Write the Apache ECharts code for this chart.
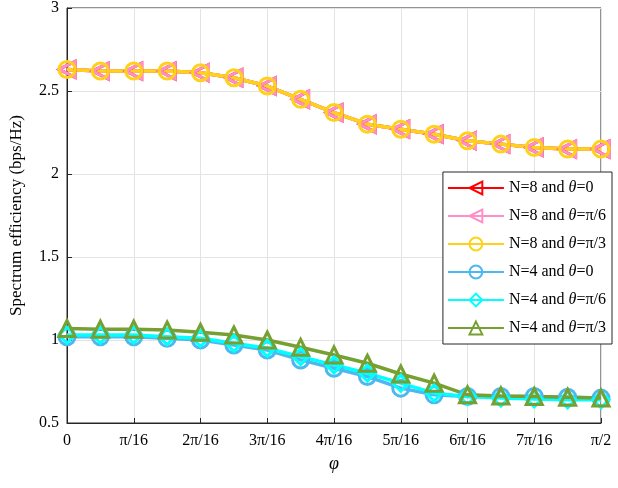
<!DOCTYPE html><html><head><meta charset="utf-8"><script src="https://cdn.jsdelivr.net/npm/echarts@6/dist/echarts.min.js"></script></head><body style="margin:0"><div id="c" style="width:618px;height:488px"></div><script>
const xs=[0,0.5,1,1.5,2,2.5,3,3.5,4,4.5,5,5.5,6,6.5,7,7.5,8];
const xTickLabels=['0','π/16','2π/16','3π/16','4π/16','5π/16','6π/16','7π/16','π/2'];
const n8t0=[2.63,2.62,2.62,2.62,2.61,2.58,2.53,2.45,2.37,2.30,2.27,2.24,2.20,2.18,2.16,2.15,2.15];
const n8t6=[2.63,2.62,2.62,2.62,2.61,2.58,2.53,2.45,2.37,2.30,2.27,2.24,2.20,2.18,2.16,2.15,2.15];
const n8t3=[2.63,2.62,2.62,2.62,2.61,2.58,2.53,2.45,2.37,2.30,2.27,2.24,2.20,2.18,2.16,2.15,2.15];
const n4t0=[1.02,1.02,1.02,1.01,1.0,0.97,0.94,0.88,0.83,0.78,0.71,0.67,0.66,0.66,0.66,0.655,0.65];
const n4t6=[1.03,1.03,1.03,1.02,1.01,0.98,0.95,0.90,0.85,0.80,0.74,0.68,0.66,0.65,0.645,0.64,0.64];
const n4t3=[1.07,1.065,1.065,1.06,1.046,1.03,1.0,0.956,0.91,0.86,0.795,0.74,0.67,0.663,0.66,0.655,0.65];
const names=['N=8 and {i|θ}=0','N=8 and {i|θ}=π/6','N=8 and {i|θ}=π/3','N=4 and {i|θ}=0','N=4 and {i|θ}=π/6','N=4 and {i|θ}=π/3'];
const cfg=[[n8t0,'#ff0000','triangle',90],[n8t6,'#ff8fc8','triangle',90],[n8t3,'#ffd21a','circle',0],[n4t0,'#4db8ef','circle',0],[n4t6,'#00ffff','diamond',0],[n4t3,'#76a032','triangle',0]];
const series=cfg.map((c,k)=>({name:'s'+k,type:'line',data:xs.map((x,i)=>[x,c[0][i]]),symbol:c[2],symbolRotate:c[3],symbolSize:16,showAllSymbol:true,
 lineStyle:{color:c[1],width:3.5},itemStyle:{color:'rgba(255,255,255,0)',borderColor:c[1],borderWidth:3},emphasis:{disabled:true}}));
const ch=echarts.init(document.getElementById('c'));
ch.setOption({animation:false,textStyle:{fontFamily:'Liberation Serif'},
grid:{left:67,right:17,top:8,bottom:65,show:true,borderColor:'#262626',borderWidth:1},
legend:{orient:'vertical',right:6,top:172,itemWidth:56,itemHeight:16,itemGap:12,padding:[8,6,8,4],backgroundColor:'#fff',borderColor:'#262626',borderWidth:1,
 formatter:n=>names[+n.slice(1)],textStyle:{fontSize:16,color:'#000',fontFamily:'Liberation Serif',rich:{i:{fontStyle:'italic',fontSize:16,fontFamily:'Liberation Serif'}}}},
xAxis:{type:'value',min:0,max:8,interval:1,name:'φ',nameLocation:'middle',nameGap:32,nameTextStyle:{fontSize:18,fontStyle:'italic',color:'#000'},
 axisLine:{lineStyle:{color:'#262626'}},axisTick:{inside:true,lineStyle:{color:'#262626'}},axisLabel:{fontSize:16,color:'#000',margin:10,formatter:v=>xTickLabels[v]},splitLine:{lineStyle:{color:'#e3e3e3'}}},
yAxis:{type:'value',min:0.5,max:3,interval:0.5,name:'Spectrum efficiency (bps/Hz)',nameLocation:'middle',nameGap:42,nameTextStyle:{fontSize:17,color:'#000'},
 axisLine:{show:true,lineStyle:{color:'#262626'}},axisTick:{inside:true,lineStyle:{color:'#262626'}},axisLabel:{fontSize:16,color:'#000',formatter:v=>String(v)},splitLine:{lineStyle:{color:'#e3e3e3'}}},
series});
</script></body></html>
